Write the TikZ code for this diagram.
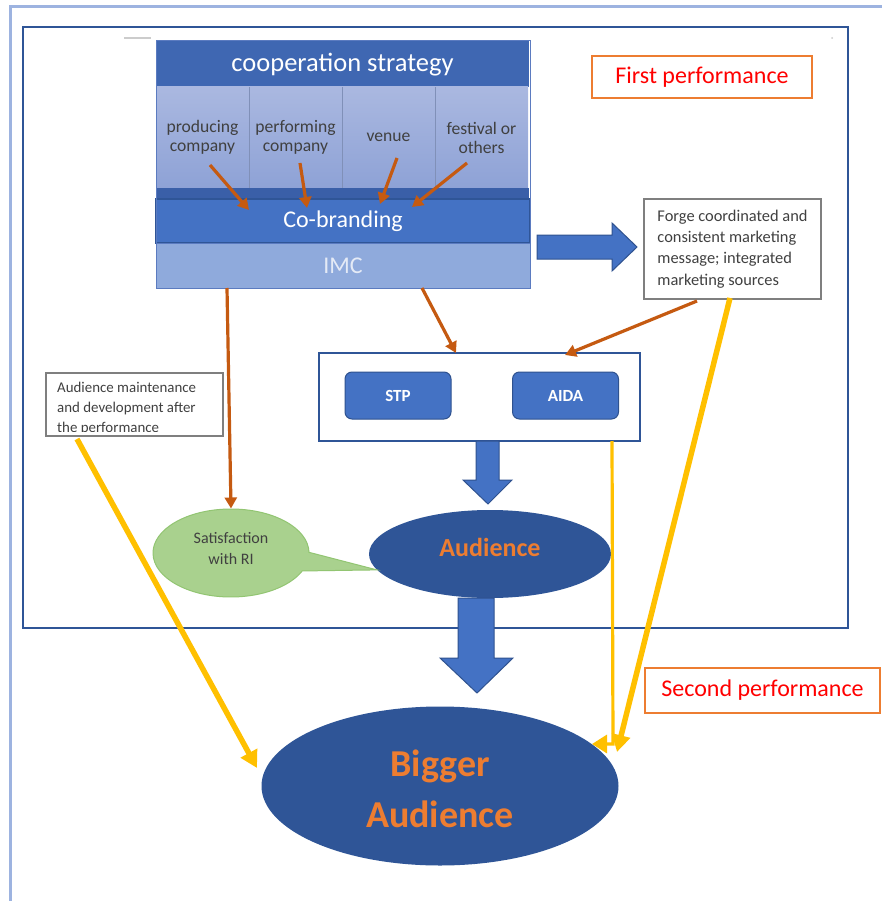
\documentclass[tikz,border=0pt]{standalone}
\usepackage{fontspec}
\setmainfont{Carlito}
\usetikzlibrary{arrows.meta,shapes.geometric,shapes.callouts,calc}
\definecolor{outerframe}{HTML}{9DB3E0}
\definecolor{innerframe}{HTML}{2F5597}
\definecolor{titleblue}{HTML}{3F67B2}
\definecolor{colTop}{HTML}{AAB8E0}
\definecolor{colBot}{HTML}{8EA2D6}
\definecolor{sepline}{HTML}{8090B8}
\definecolor{bandblue}{HTML}{3A5FA8}
\definecolor{cobrandfill}{HTML}{4472C4}
\definecolor{cobrandB}{HTML}{2F5597}
\definecolor{imcblue}{HTML}{8FAADC}
\definecolor{imcB}{HTML}{5B7BC0}
\definecolor{imctext}{HTML}{E4EAF6}
\definecolor{orangeA}{HTML}{C55A11}
\definecolor{yellowA}{HTML}{FFC000}
\definecolor{midblue}{HTML}{4472C4}
\definecolor{arrowB}{HTML}{2F528F}
\definecolor{audblue}{HTML}{2F5597}
\definecolor{orangeT}{HTML}{ED7D31}
\definecolor{satgreen}{HTML}{A9D18E}
\definecolor{satB}{HTML}{92C572}
\definecolor{textgray}{HTML}{404040}
\definecolor{grayB}{HTML}{7F7F7F}
\newcommand\myfs[2]{\fontsize{#1}{#2}\selectfont}
\begin{document}
\begin{tikzpicture}[x=1pt,y=-1pt,
  box/.style={inner sep=0pt, outer sep=0pt, anchor=north west},
  colbox/.style={box, minimum width=93pt, minimum height=101pt, top color=colTop, bottom color=colBot, text=textgray, align=center, font=\myfs{17.6}{19}},
  oarrow/.style={draw=orangeA, line width=3.2pt, -{Triangle[length=11pt,width=12pt]}},
  yarrow/.style={draw=yellowA, line width=5.5pt, -{Triangle[length=17pt,width=18pt]}},
  ythin/.style={draw=yellowA, line width=3.2pt, -{Triangle[length=15pt,width=18pt]}},
  blockarrow/.style={fill=midblue, draw=arrowB, line width=1pt, line join=miter},
  perfbox/.style={box, draw=orangeT, line width=2pt, text=red, font=\myfs{24}{28}},
  notebox/.style={box, draw=grayB, line width=1.2pt, fill=white},
  smallbtn/.style={draw=arrowB, fill=midblue, rounded corners=7pt, line width=1pt, minimum width=106pt, minimum height=47pt, text=white, font=\bfseries\myfs{17}{20}, inner sep=0pt}
]
\useasboundingbox (0,0) rectangle (882,901);
\fill[white] (0,0) rectangle (882,901);
% frames
\draw[outerframe, line width=3pt] (10,905) -- (10,7) -- (886,7);
\node[box, draw=innerframe, line width=2pt, minimum width=825pt, minimum height=601pt] (frame) at (23,27) {};
\draw[gray!40, line width=1.5pt] (124,38) -- (151,38);
\fill[gray!40] (832,38) circle (1pt);

% cooperation strategy block
\node[box, fill=titleblue, minimum width=373pt, minimum height=47pt] (coop) at (156,40) {};
\node[text=white, font=\myfs{26.5}{30}] (cooptext) at (342.5,65) {cooperation strategy};
\node[colbox] (c1) at (156,87) {producing\\company};
\node[colbox] (c2) at (249,87) {performing\\company};
\node[colbox] (c3) at (342,87) {venue};
\node[colbox] (c4) at (435,87) {festival or\\others};
\draw[sepline, line width=1pt] (c1.north east) -- (c1.south east);
\draw[sepline, line width=1pt] (c2.north east) -- (c2.south east);
\draw[sepline, line width=1pt] (c3.north east) -- (c3.south east);
\node[box, fill=bandblue, minimum width=373pt, minimum height=11pt] (band) at (156,188) {};
\node[box, fill=cobrandfill, draw=cobrandB, line width=1.2pt, minimum width=374pt, minimum height=44pt, text=white, font=\myfs{24}{28}] (cobrand) at (156,199) {Co-branding};
\node[box, fill=imcblue, draw=imcB, line width=1pt, minimum width=374pt, minimum height=45pt, text=imctext, font=\myfs{24}{28}] (imc) at (156,243) {IMC};
\draw[imcB, line width=0.8pt] (coop.north west) rectangle (imc.south east);

% orange arrows into co-branding
\draw[oarrow] ($(c1.south west)+(54,-23)$) -- ($(cobrand.north west)+(93,11)$);
\draw[oarrow] ($(c2.south west)+(51,-25)$) -- ($(cobrand.north west)+(151,9)$);
\draw[oarrow] ($(c3.south west)+(55,-30)$) -- ($(cobrand.north west)+(224,5)$);
\draw[oarrow] ($(c4.south west)+(32,-25)$) -- ($(cobrand.north west)+(256,8)$);

% right block arrow and forge box
\path[blockarrow] (537,235) -- (612,235) -- (612,223) -- (637,247) -- (612,271) -- (612,259) -- (537,259) -- cycle;
\node[notebox, minimum width=177pt, minimum height=100pt, align=left, text=textgray, font=\myfs{16.4}{21.3}] (forge) at (644,199) {Forge coordinated and\\consistent marketing\\message; integrated\\marketing sources};

% performance labels
\node[perfbox, minimum width=220pt, minimum height=42pt] (first) at (592,56) {First performance};
\node[perfbox, minimum width=235pt, minimum height=45pt] (second) at (645,668) {Second performance};

% audience maintenance box (text clipped at the bottom)
\node[notebox, minimum width=177pt, minimum height=63pt] (maint) at (46,373) {};
\begin{scope}
  \clip (48,375) rectangle (221,431);
  \node[anchor=north west, inner sep=0pt, align=left, text=textgray, font=\myfs{14.9}{20}] (mainttext) at (57,382) {Audience maintenance\\and development after\\the performance};
\end{scope}

% STP / AIDA container
\node[box, draw=innerframe, line width=1.3pt, fill=white, minimum width=321pt, minimum height=88pt] (cont) at (319,353) {};
\node[smallbtn] (stp) at (398,395.5) {STP};
\node[smallbtn] (aida) at (565.5,395.5) {AIDA};

% audience ellipses
\node[ellipse, fill=audblue, minimum width=242pt, minimum height=88pt, inner sep=0pt] (aud) at (490,554) {};
\node[text=orangeT, font=\bfseries\myfs{26}{30}] (audtext) at (490,547) {Audience};
\node[ellipse callout, callout absolute pointer={(aud.188)}, callout pointer arc=25, fill=satgreen, draw=satB, line width=1pt, minimum width=156pt, minimum height=88pt, inner sep=0pt] (sat) at (231,553) {};
\node[text=textgray, align=center, font=\myfs{16}{21}] (sattext) at (231,549) {Satisfaction\\with RI};
\node[ellipse, fill=audblue, minimum width=357pt, minimum height=159pt, inner sep=0pt] (big) at (440,786) {};
\node[text=orangeT, align=center, font=\bfseries\myfs{38}{51}] (bigtext) at (440,789) {Bigger\\Audience};

% block arrows down
\path[blockarrow] (476,441) -- (499,441) -- (499,480) -- (512,480) -- (488,504) -- (463,480) -- (476,480) -- cycle;
\path[blockarrow] (458,598) -- (494,598) -- (494,658) -- (513,658) -- (477,693) -- (440,658) -- (458,658) -- cycle;

% orange connectors
\draw[oarrow] ($(imc.south west)+(71,0)$) -- (sat.north);
\draw[oarrow] ($(imc.south west)+(266,0)$) -- ($(cont.north west)+(137,0)$);
\draw[oarrow] ($(forge.south west)+(53,2)$) -- ($(cont.north west)+(246,2)$);

% yellow connectors
\draw[yarrow] ($(maint.south west)+(31,3)$) -- ($(big.center)+(-183,-18)$);
\draw[yarrow] ($(forge.south west)+(86,-1)$) -- ($(big.center)+(177,-34)$);
\draw[ythin] ($(cont.south east)+(-28,0)$) -- ++(1,303) -- ++(-21,0);
\end{tikzpicture}
\end{document}
